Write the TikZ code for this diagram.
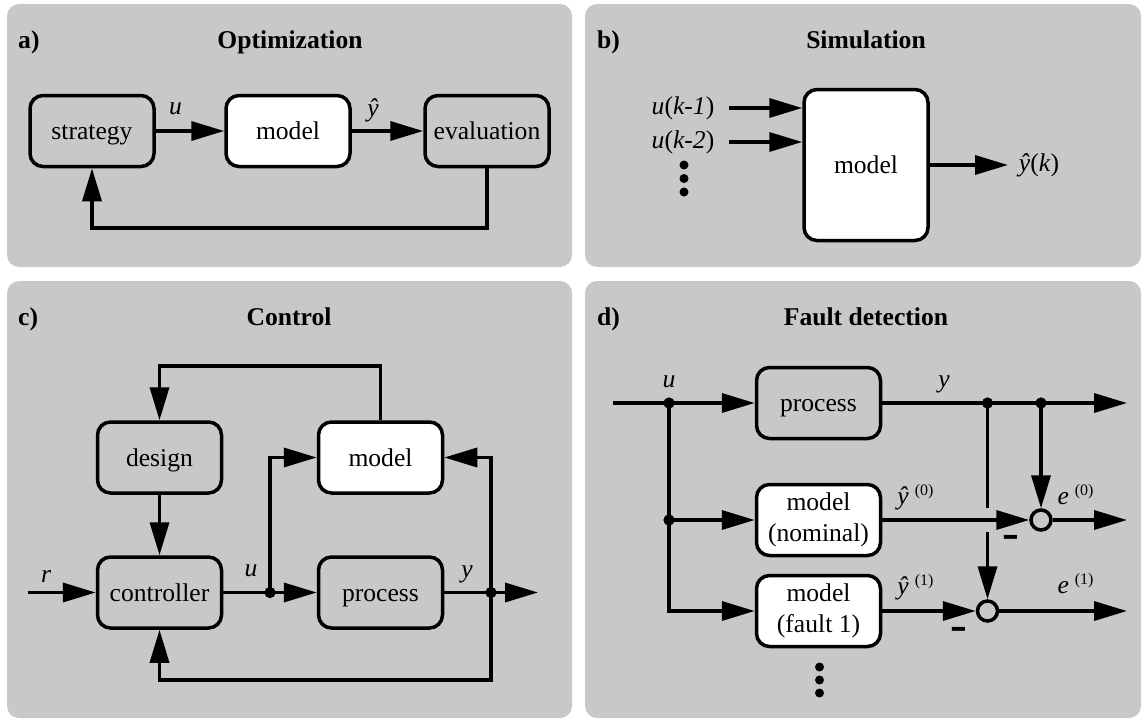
\documentclass[tikz,border=0pt]{standalone}
\usepackage{fontspec}
\setmainfont{Liberation Serif}
\usetikzlibrary{arrows.meta}
\definecolor{panelgray}{RGB}{200,200,200}
\begin{document}
\begin{tikzpicture}[x=1pt,y=-1pt,
  every node/.style={font=\fontsize{25.6}{31}\selectfont},
  box/.style={draw,line width=3.5pt,rounded corners=13pt,minimum width=124pt,minimum height=71pt,inner sep=2pt,align=center},
  one/.style={text height=17.5pt,text depth=0pt},
  gbox/.style={box,fill=panelgray},
  wbox/.style={box,fill=white},
  conn/.style={line width=3.5pt},
  arr/.style={conn,-{Triangle[length=33pt,width=19pt]}},
  panel/.style={fill=panelgray,rounded corners=12pt},
  lbl/.style={font=\fontsize{25.6}{30}\selectfont\itshape,inner sep=0pt},
  sup/.style={font=\fontsize{25.6}{30}\selectfont,inner sep=0pt},
  title/.style={font=\fontsize{25.6}{30}\selectfont\bfseries,anchor=base,inner sep=0pt},
  jdot/.style={circle,fill=black,inner sep=0pt,minimum size=11pt},
  vdot/.style={circle,fill=black,inner sep=0pt,minimum size=9pt},
  sumc/.style={circle,draw,line width=3.5pt,fill=panelgray,minimum size=20pt,inner sep=0pt},
  minus/.style={font=\fontsize{25.6}{30}\selectfont\bfseries,inner sep=0pt}
]
\useasboundingbox (0,0) rectangle (1142,720);
% panels
\fill[panel] (7,4) rectangle (572,267);
\fill[panel] (585,4) rectangle (1141,267);
\fill[panel] (7,281) rectangle (572,718);
\fill[panel] (585,281) rectangle (1141,718);

% ---------- a) Optimization
\node[title,anchor=base west] (ta) at (18,48) {a)};
\node[title] (tta) at (290,48) {Optimization};
\node[gbox,one] (strategy) at (92,131) {strategy};
\node[wbox,one] (amodel) at (288,131) {model};
\node[gbox,one] (evaluation) at (487,131) {evaluation};
\coordinate (afb) at (92,228);
\draw[arr] (strategy.east) -- (amodel.west);
\draw[arr] (amodel.east) -- (evaluation.west);
\draw[arr] (evaluation.south) |- (afb) -- (strategy.south);
\node[lbl] (au) at (175.5,109) {u};
\node[lbl] (ay) at (373,110) {ŷ};

% ---------- b) Simulation
\node[title,anchor=base west] (tb) at (597,48) {b)};
\node[title] (ttb) at (866,48) {Simulation};
\node[wbox,one,minimum height=151pt] (bmodel) at (866,165) {model};
\coordinate (bin1) at (729,108);
\coordinate (bin2) at (729,142);
\coordinate (bout) at (1008,165);
\draw[arr] (bin1) -- (bin1 -| bmodel.west);
\draw[arr] (bin2) -- (bin2 -| bmodel.west);
\draw[arr] (bmodel.east) -- (bout);
\node[sup] (bl1) at (683,108) {\textit{u}(\textit{k-1})};
\node[sup] (bl2) at (683,142) {\textit{u}(\textit{k-2})};
\node[sup] (bl3) at (1039,165) {\textit{ŷ}(\textit{k})};
\node[vdot] (bd1) at (684,165) {};
\node[vdot] (bd2) at (684,178.5) {};
\node[vdot] (bd3) at (684,192) {};

% ---------- c) Control
\node[title,anchor=base west] (tc) at (18,325) {c)};
\node[title] (ttc) at (289,325) {Control};
\node[gbox,one] (design) at (159.5,457.5) {design};
\node[wbox,one] (cmodel) at (380.5,457.5) {model};
\node[gbox,one] (controller) at (159.5,592.5) {controller};
\node[gbox,one] (cprocess) at (380.5,592.5) {process};
\coordinate (ctop) at (159.5,366);
\coordinate (cin) at (28,592.5);
\coordinate (cout) at (538,592.5);
\coordinate (cbot) at (491,680);
\node[jdot] (jc1) at (270,592.5) {};
\node[jdot] (jc2) at (491,592.5) {};
\draw[arr] (cmodel.north) |- (ctop) -- (design.north);
\draw[arr] (design.south) -- (controller.north);
\draw[arr] (cin) -- (controller.west);
\draw[conn] (controller.east) -- (jc1.center);
\draw[arr] (jc1.center) -- (cprocess.west);
\draw[arr] (jc1.center) |- (cmodel.west);
\draw[conn] (cprocess.east) -- (jc2.center);
\draw[arr] (jc2.center) -- (cout);
\draw[arr] (jc2.center) |- (cmodel.east);
\draw[arr] (jc2.center) -- (cbot) -| (controller.south);
\node[jdot] at (jc1) {};
\node[jdot] at (jc2) {};
\node[lbl] (cr) at (46,576) {r};
\node[lbl] (cu) at (251,571) {u};
\node[lbl] (cy) at (467,574) {y};

% ---------- d) Fault detection
\node[title,anchor=base west] (td) at (597,325) {d)};
\node[title] (ttd) at (866,325) {Fault detection};
\node[gbox,one] (dprocess) at (818.5,403) {process};
\node[wbox] (dnom) at (818.5,520) {model\\(nominal)};
\node[wbox] (dfault) at (818.5,611) {model\\(fault 1)};
\node[sumc] (e0) at (1041,520) {};
\node[sumc] (e1) at (987.5,611) {};
\node[jdot] (jd1) at (669,403) {};
\node[jdot] (jd2) at (669,520) {};
\node[jdot] (jd3) at (987.5,403) {};
\node[jdot] (jd4) at (1041,403) {};
\coordinate (din) at (613,403);
\coordinate (dcorner) at (669,611);
\coordinate (dout) at (1127,403);
\coordinate (gapa) at (987.5,507.5);
\coordinate (gapb) at (987.5,532);
\coordinate (e0out) at (1127,520);
\coordinate (e1out) at (1127,611);
\draw[arr] (din) -- (dprocess.west);
\draw[arr] (jd1.center) -- (dcorner) -- (dfault.west);
\draw[arr] (jd2.center) -- (dnom.west);
\draw[arr] (dprocess.east) -- (dout);
\draw[arr] (jd4.center) -- (e0.north);
\draw[conn] (jd3.center) -- (gapa);
\draw[arr] (gapb) -- (e1.north);
\draw[arr] (dnom.east) -- (e0.west);
\draw[arr] (dfault.east) -- (e1.west);
\draw[arr] (e0.east) -- (e0out);
\draw[arr] (e1.east) -- (e1out);
\node[jdot] at (jd1) {};
\node[jdot] at (jd2) {};
\node[jdot] at (jd3) {};
\node[jdot] at (jd4) {};
\node[lbl] (du) at (669,382) {u};
\node[lbl] (dy) at (944,384) {y};
\node[sup] (dy0) at (915.5,497) {\textit{ŷ}\hspace{6pt}\raisebox{9pt}{\fontsize{16}{18}\selectfont(0)}};
\node[sup] (dy1) at (915.5,587) {\textit{ŷ}\hspace{6pt}\raisebox{9pt}{\fontsize{16}{18}\selectfont(1)}};
\node[sup] (de0) at (1075.5,495) {\textit{e}\hspace{6pt}\raisebox{9pt}{\fontsize{16}{18}\selectfont(0)}};
\node[sup] (de1) at (1075.5,584) {\textit{e}\hspace{6pt}\raisebox{9pt}{\fontsize{16}{18}\selectfont(1)}};
\node[minus] (m0) at (1011,543) {\scalebox{1}[2.2]{–}};
\node[minus] (m1) at (958.5,635) {\scalebox{1}[2.2]{–}};
\node[vdot] (dd1) at (819.5,667) {};
\node[vdot] (dd2) at (819.5,680) {};
\node[vdot] (dd3) at (819.5,693) {};
\end{tikzpicture}
\end{document}
